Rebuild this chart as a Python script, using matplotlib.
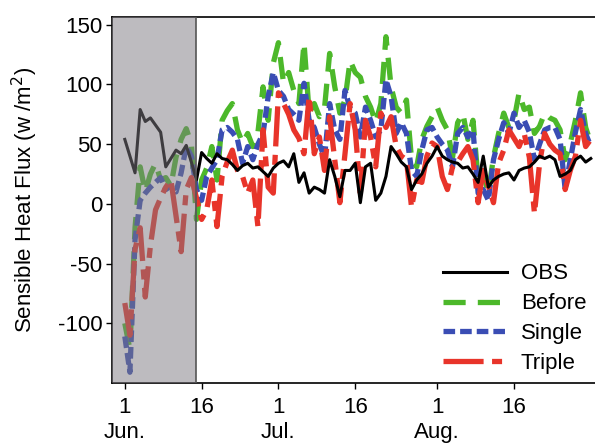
import numpy as np
import matplotlib
matplotlib.use("Agg")
from matplotlib import pyplot as plt

plt.rcParams['font.family'] = ['Liberation Sans', 'DejaVu Sans']
plt.rcParams['axes.unicode_minus'] = False

# day index 0 = Jun 1 ... 91 = Aug 31
obs = [54, 40, 26, 79, 69, 72, 66, 60, 31, 38, 45, 42, 49, 35, 20,
       43, 38, 34, 42, 38, 37, 33, 28, 32, 34, 30, 31, 27, 23, 30,
       34, 36, 31, 42, 18, 26, 9, 14, 12, 9, 37, 23, 6, 28, 28,
       34, 1, 31, 34, 3, 9, 23, 48, 42, 35, 31, 12, 20, 25, 34,
       40, 48, 40, 37, 35, 34, 30, 31, 25, 18, 40, 14, 20, 23, 25,
       26, 20, 28, 30, 31, 35, 40, 38, 40, 37, 23, 25, 28, 37, 40, 35, 38]
before = [-100, -122, -20, 31, 10, 25, 34, 20, 22, 15, 39, 54, 63, 50, -13,
          20, 30, 48, 20, 70, 78, 84, 62, 51, 59, 48, 60, 98, 70, 118,
          135, 101, 110, 95, 84, 135, 76, 84, 73, 80, 126, 98, 76, 87, 120,
          110, 106, 90, 81, 68, 84, 140, 98, 81, 76, 87, 37, 31, 54, 65,
          73, 81, 70, 62, 39, 68, 76, 54, 70, 20, 26, 9, 39, 59, 76,
          64, 70, 93, 79, 81, 59, 65, 76, 72, 70, 62, 37, 51, 70, 93, 64, 51]
single = [-111, -141, -30, 3, 9, 14, 18, 22, 12, 15, 10, 26, 48, 40, 12,
          3, 23, 30, 37, 62, 64, 60, 54, 34, 48, 37, 50, 59, 90, 110,
          95, 90, 79, 75, 70, 101, 70, 64, 50, 39, 84, 62, 54, 95, 80,
          76, 56, 81, 70, 56, 62, 104, 90, 59, 68, 59, 28, 23, 45, 62,
          64, 56, 50, 45, 31, 59, 64, 56, 62, 9, 12, 3, 37, 54, 68,
          59, 76, 64, 70, 60, 37, 50, 62, 64, 64, 54, 12, 37, 60, 79, 59, 48]
triple = [-83, -110, -38, -20, -78, -35, -5, 5, 14, 20, -10, -40, 12, 22, 5,
          -13, -5, 20, -19, 23, 35, 45, 28, 23, 9, 20, -19, 62, 14, 9,
          93, 84, 75, 62, 55, 42, 90, 42, 56, 28, 73, 37, 1, 42, 84,
          62, 9, 70, 56, 31, 76, 64, 73, 48, 40, 37, -3, 20, 18, 40,
          51, 48, 23, 12, 31, 35, 42, 48, 37, 1, 28, 15, 1, 34, 45,
          62, 55, 48, 59, 39, -8, 34, 59, 50, 45, 42, 12, 28, 40, 70, 48, 54]
days = np.arange(len(obs))

tick_days = [0, 15, 30, 45, 61, 76]
tick_labels = ['1', '16', '1', '16', '1', '16']
month_days = [0, 30, 61]
month_labels = ['Jun.', 'Jul.', 'Aug.']

fs = 16
fig = plt.figure(figsize=(5.95, 4.43), dpi=100)
ax = fig.add_axes([112/595, 60/443, 488/595, 366/443])

ax.plot(days, before, color='#4cb82a', lw=3.8, dashes=(4.2, 2.3), label='Before', zorder=2)
ax.plot(days, single, color='#3a4db4', lw=3.8, dashes=(2.2, 0.95), label='Single', zorder=3)
ax.plot(days, triple, color='#e8342a', lw=3.8, dashes=(7.6, 1.6, 1.9, 1.6), label='Triple', zorder=4)
ax.plot(days, obs, color='black', lw=2.2, label='OBS', zorder=5)

# shaded spin-up period drawn over the lines
ax.axvspan(-3, 14, facecolor=(0.49, 0.475, 0.5, 0.5), edgecolor='none', zorder=6)
ax.axvline(14, color='#555555', lw=1.2, zorder=7)

ax.set_xlim(-2.5, 92.8)
ax.set_ylim(-150, 156.5)
ax.set_yticks([-100, -50, 0, 50, 100, 150])
ax.set_xticks(tick_days)
ax.set_xticklabels(tick_labels)
ax.tick_params(labelsize=fs, direction='out', length=4, width=1, pad=3)
ax.tick_params(axis='x', pad=6)
for s in ax.spines.values():
    s.set_linewidth(1.2)

for d, m in zip(month_days, month_labels):
    ax.annotate(m, xy=(d, 0), xycoords=('data', 'axes fraction'),
                xytext=(0, -28), textcoords='offset points',
                ha='center', va='top', fontsize=fs)

ax.set_ylabel('Sensible Heat Flux (w /m$^2$)', fontsize=fs, labelpad=13)

h, l = ax.get_legend_handles_labels()
order = [3, 0, 1, 2]
ax.legend([h[i] for i in order], [l[i] for i in order], loc='lower right',
          frameon=False, fontsize=fs, handlelength=2.9, handletextpad=0.6,
          labelspacing=0.4, borderaxespad=0.0, bbox_to_anchor=(0.99, 0.0))

fig.savefig('out.png', dpi=100)
